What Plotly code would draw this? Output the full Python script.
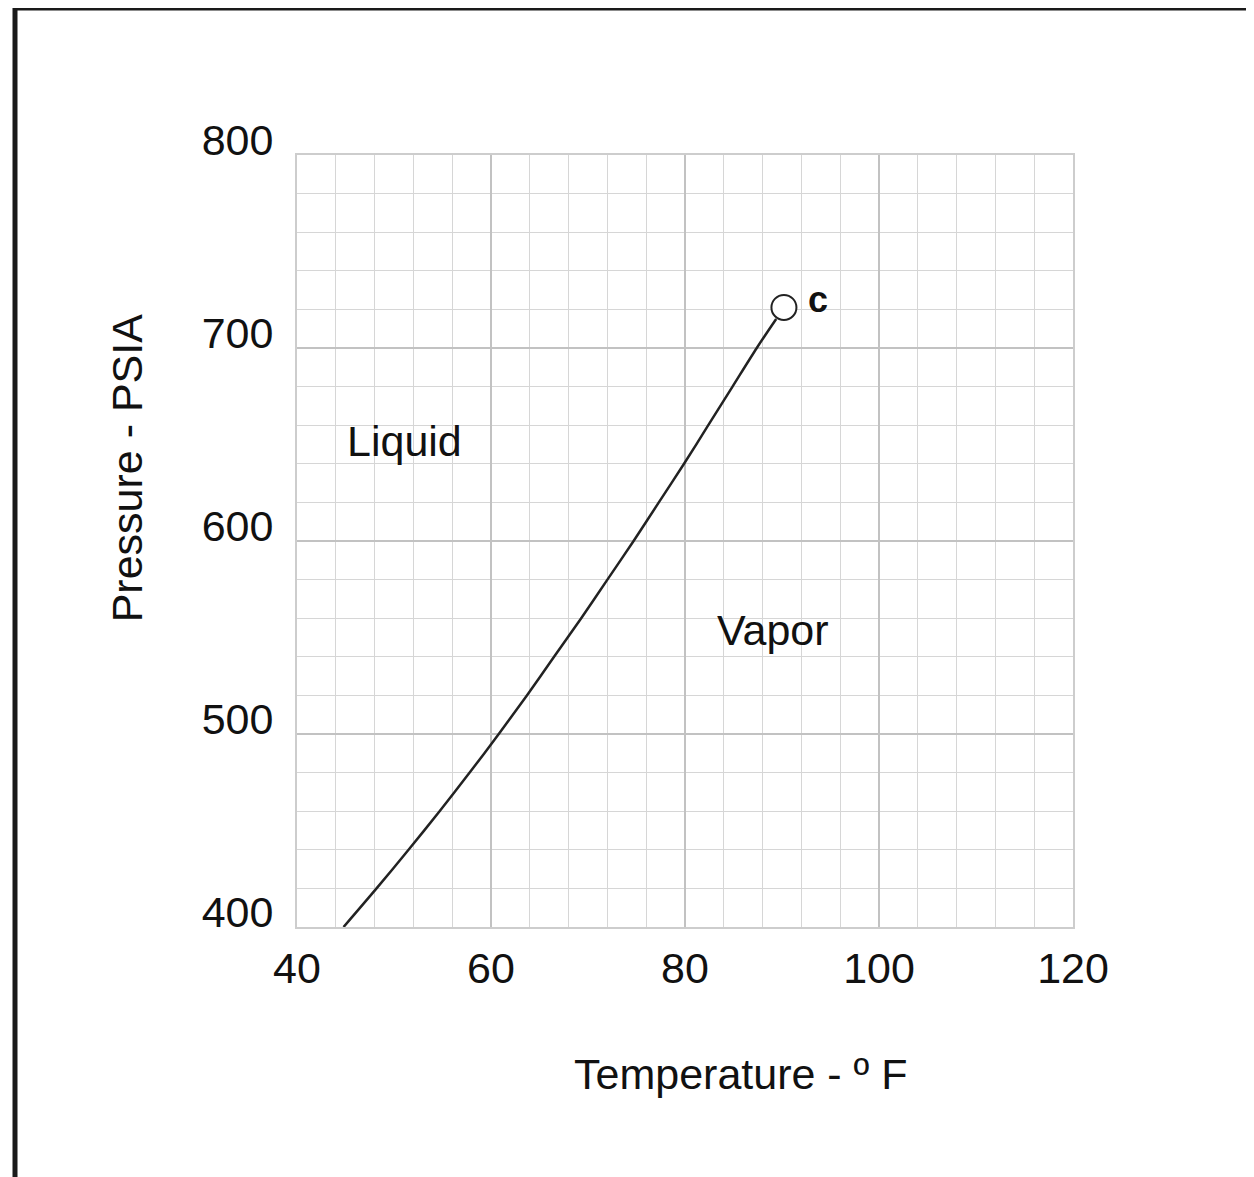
import plotly.graph_objects as go

# vapour pressure curve
pressure = [400, 420, 440, 460, 480, 500, 520, 540, 560, 580, 600,
            620, 640, 660, 680, 700, 715]
temperature = [44.8, 48.2, 51.5, 54.7, 57.8, 60.8, 63.7, 66.5, 69.3, 72.0, 74.7,
               77.3, 79.9, 82.4, 84.9, 87.4, 89.4]

crit_t = [90.2]
crit_p = [721]
crit_label = "c"

x_ticks = [40, 60, 80, 100, 120]
y_ticks = [400, 500, 600, 700, 800]

FONT = "Liberation Sans, Arial, sans-serif"

fig = go.Figure()

fig.add_trace(go.Scatter(
    x=temperature, y=pressure, mode="lines",
    line=dict(color="#222222", width=2.5, shape="spline", smoothing=0.8),
    hoverinfo="skip", showlegend=False,
))

fig.add_trace(go.Scatter(
    x=crit_t, y=crit_p, mode="markers",
    marker=dict(symbol="circle", size=25, color="white",
                line=dict(color="#222222", width=2)),
    showlegend=False,
))

# region labels
fig.add_annotation(x=51.1, y=652, text="Liquid", showarrow=False,
                   font=dict(size=43, color="#111111", family=FONT))
fig.add_annotation(x=89.1, y=554, text="Vapor", showarrow=False,
                   font=dict(size=43, color="#111111", family=FONT))
fig.add_annotation(x=93.7, y=725, text="<b>" + crit_label + "</b>", showarrow=False,
                   font=dict(size=36, color="#111111", family=FONT))

# axis titles (placed off-centre like the original)
fig.add_annotation(xref="paper", yref="paper", x=0.572, y=-0.224,
                   text="Temperature - º F", showarrow=False,
                   font=dict(size=43, color="#111111", family=FONT))
fig.add_annotation(xref="paper", yref="paper", x=-0.253, y=0.595,
                   text="Pressure - PSIA", showarrow=False, textangle=-90,
                   font=dict(size=43, color="#111111", family=FONT))

# frame round the figure (left and top edges)
frame = dict(type="line", xref="paper", yref="paper",
             line=dict(color="#1a1a1a", width=5), layer="above")
fig.add_shape(**frame, x0=-0.3634, x1=-0.3634, y0=1.1904, y1=-0.34)
fig.add_shape(**frame, x0=-0.3660, x1=1.25, y0=1.1904, y1=1.1904)

fig.update_xaxes(
    range=[40, 120], tickvals=x_ticks, ticktext=[str(v) for v in x_ticks],
    showgrid=True, gridcolor="#c2c2c2", gridwidth=2,
    minor=dict(dtick=4, showgrid=True, gridcolor="#d6d6d6", gridwidth=1),
    showline=True, linecolor="#cdcdcd", linewidth=2, mirror=True,
    zeroline=False, ticks="", ticklabelstandoff=2,
    tickfont=dict(size=43, color="#111111", family=FONT),
)
fig.update_yaxes(
    range=[400, 800], tickvals=y_ticks, ticktext=[str(v) for v in y_ticks],
    showgrid=True, gridcolor="#c2c2c2", gridwidth=2,
    minor=dict(dtick=20, showgrid=True, gridcolor="#d6d6d6", gridwidth=1),
    showline=True, linecolor="#cdcdcd", linewidth=2, mirror=True,
    zeroline=False, ticks="", ticklabelstandoff=13, ticklabelshift=-15,
    tickfont=dict(size=43, color="#111111", family=FONT),
)

fig.update_layout(
    width=1254, height=1177,
    margin=dict(l=289, r=189, t=147, b=258),
    paper_bgcolor="white", plot_bgcolor="white",
    font=dict(family=FONT, color="#111111"),
    showlegend=False,
)

fig.write_html("out.html")
